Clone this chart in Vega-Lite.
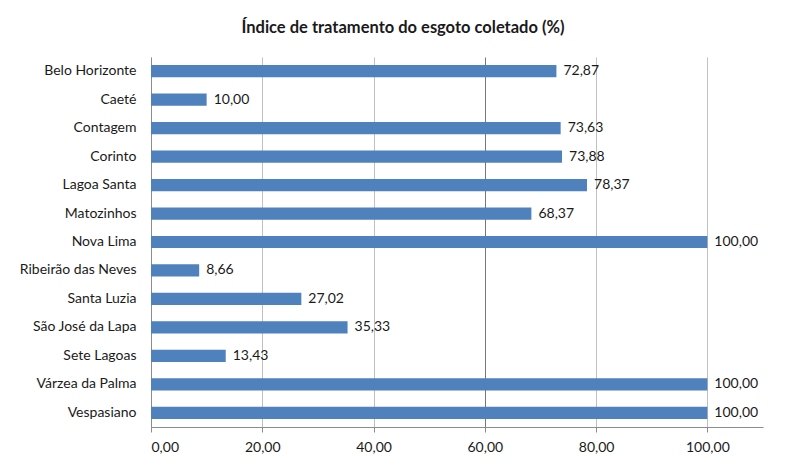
{
  "$schema": "https://vega.github.io/schema/vega-lite/v6.json",
  "autosize": "none",
  "width": 612,
  "height": 370,
  "padding": {"left": 151, "top": 57, "right": 44, "bottom": 43},
  "background": "white",
  "title": {
    "text": "Índice de tratamento do esgoto coletado (%)",
    "anchor": "middle",
    "dx": -54,
    "offset": 21,
    "font": "Lato",
    "fontSize": 16.5,
    "fontWeight": "bold",
    "color": "#1a1a1a"
  },
  "data": {
    "values": [
      {"municipio": "Belo Horizonte", "indice": 72.87},
      {"municipio": "Caeté", "indice": 10.00},
      {"municipio": "Contagem", "indice": 73.63},
      {"municipio": "Corinto", "indice": 73.88},
      {"municipio": "Lagoa Santa", "indice": 78.37},
      {"municipio": "Matozinhos", "indice": 68.37},
      {"municipio": "Nova Lima", "indice": 100.00},
      {"municipio": "Ribeirão das Neves", "indice": 8.66},
      {"municipio": "Santa Luzia", "indice": 27.02},
      {"municipio": "São José da Lapa", "indice": 35.33},
      {"municipio": "Sete Lagoas", "indice": 13.43},
      {"municipio": "Várzea da Palma", "indice": 100.00},
      {"municipio": "Vespasiano", "indice": 100.00}
    ]
  },
  "encoding": {
    "y": {
      "field": "municipio",
      "type": "nominal",
      "sort": null,
      "scale": {"paddingInner": 0.57, "paddingOuter": 0.285},
      "axis": {
        "title": null,
        "ticks": false,
        "labelPadding": 15,
        "labelFont": "Lato",
        "labelFontSize": 14,
        "labelColor": "#1a1a1a",
        "domainColor": "#8c8c8c",
        "grid": false
      }
    },
    "x": {
      "field": "indice",
      "type": "quantitative",
      "scale": {"domain": [0, 110], "nice": false},
      "axis": {
        "title": null,
        "values": [0, 20, 40, 60, 80, 100],
        "format": ".2f",
        "tickSize": 5,
        "tickColor": "#8c8c8c",
        "domainColor": "#8c8c8c",
        "labelPadding": 8,
        "labelFont": "Lato",
        "labelFontSize": 14,
        "labelColor": "#1a1a1a",
        "grid": true,
        "gridColor": {"condition": {"test": "datum.value === 60", "value": "#777777"}, "value": "#c0c0c0"}
      }
    }
  },
  "layer": [
    {"mark": {"type": "bar", "color": "#4f81bd"}},
    {
      "mark": {"type": "text", "align": "left", "baseline": "middle", "dx": 7, "font": "Lato", "fontSize": 14, "color": "#1a1a1a"},
      "encoding": {"text": {"field": "indice", "type": "quantitative", "format": ".2f"}}
    }
  ],
  "config": {
    "locale": {"number": {"decimal": ",", "thousands": ".", "grouping": [3], "currency": ["R$", ""]}},
    "view": {"stroke": null}
  }
}
